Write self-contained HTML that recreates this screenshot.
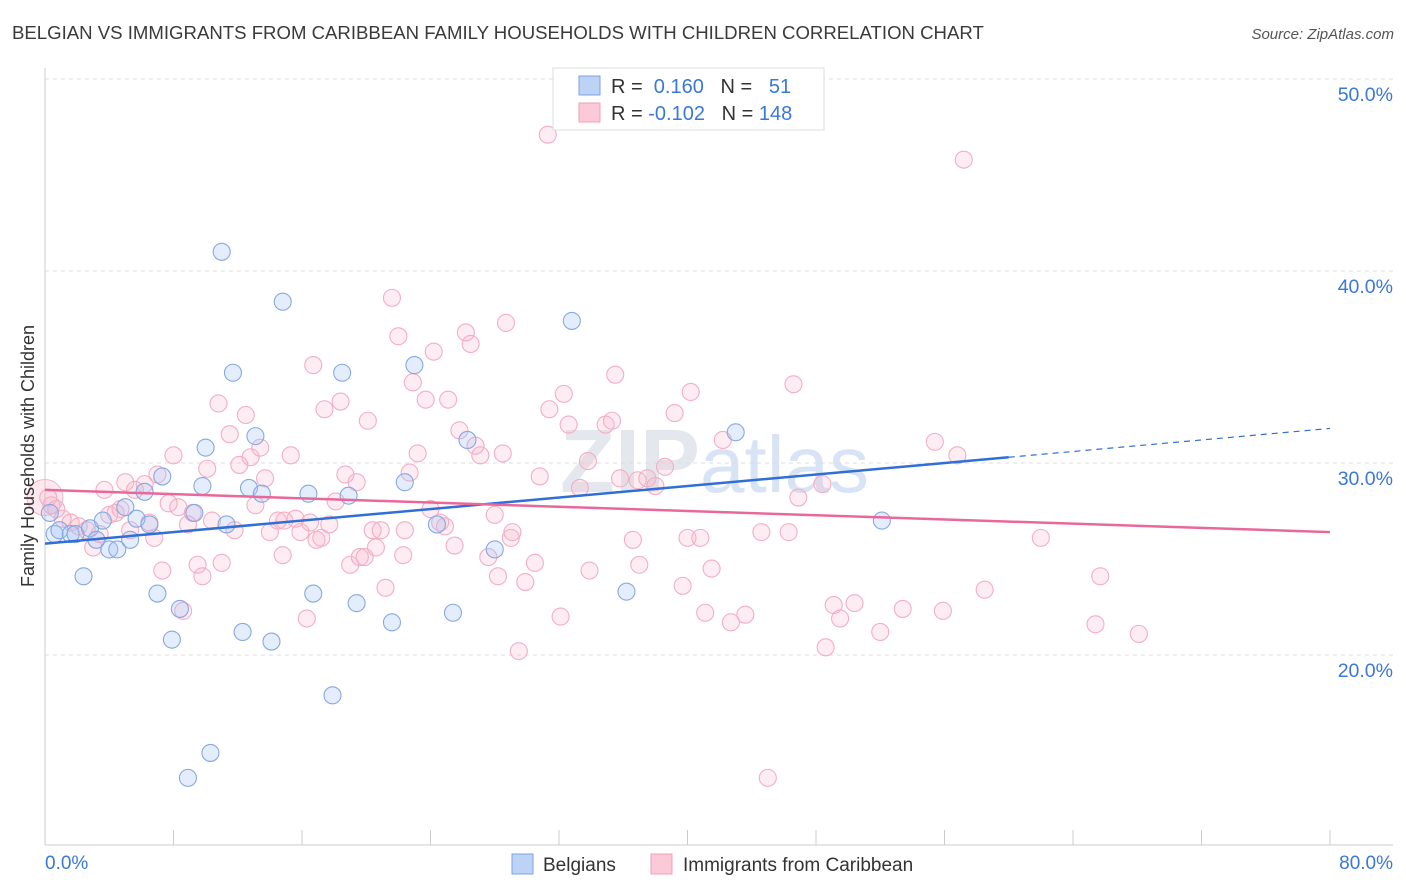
<!DOCTYPE html>
<html><head><meta charset="utf-8"><style>
body{margin:0;background:#fff;font-family:"Liberation Sans",sans-serif;}
svg{display:block}
</style></head><body>
<svg id="chart" width="1406" height="892">
<text x="12" y="39" font-size="18.6" fill="#3a3a3a">BELGIAN VS IMMIGRANTS FROM CARIBBEAN FAMILY HOUSEHOLDS WITH CHILDREN CORRELATION CHART</text>
<text x="1394" y="39" font-size="15" fill="#555" font-style="italic" text-anchor="end">Source: ZipAtlas.com</text>
<text x="560" y="492" font-size="90" fill="#e4e8ee" font-weight="bold">ZIP<tspan font-weight="normal" fill="#d8e4f6" font-size="80">atlas</tspan></text>
<g id="grid"></g>
<g id="axes"></g>
<g id="marks"></g>
<g id="lines"></g>
<text transform="translate(34,456) rotate(-90)" font-size="18" fill="#333" text-anchor="middle">Family Households with Children</text>
<g>
<rect x="553" y="68" width="271" height="62" fill="#fff" stroke="#ddd"/>
<rect x="579" y="76" width="21" height="19" fill="#bcd3f5" stroke="#7da3e0"/>
<rect x="579" y="103" width="21" height="19" fill="#fbc9d8" stroke="#f0a0b8"/>
<text x="611" y="93" font-size="20" fill="#333">R = <tspan fill="#3a78d8">&#160;0.160</tspan>&#160;&#160;&#160;N = <tspan fill="#3a78d8">&#160;&#160;51</tspan></text>
<text x="611" y="120" font-size="20" fill="#333">R = <tspan fill="#3a78d8">-0.102</tspan>&#160;&#160;&#160;N = <tspan fill="#3a78d8">148</tspan></text>
</g>
<g>
<rect x="512" y="854" width="21" height="20" fill="#bcd3f5" stroke="#7da3e0"/>
<text x="543" y="871" font-size="19" fill="#333">Belgians</text>
<rect x="651" y="854" width="21" height="20" fill="#fbc9d8" stroke="#f0a0b8"/>
<text x="683" y="871" font-size="19" fill="#333">Immigrants from Caribbean</text>
</g>
</svg>
<script>
const xTicks=[0,10,20,30,40,50,60,70,80];
const yTicks=[20,30,40,50];
const blueX=[0.3,0.6,0.9,1.6,1.9,2.4,2.8,3.2,3.6,4.0,4.5,5.0,5.3,5.7,6.2,6.5,7.0,7.3,7.9,8.4,8.9,9.3,9.8,10.0,10.3,11.0,11.3,11.7,12.3,12.7,13.1,13.5,14.1,14.8,16.4,16.7,17.9,18.5,18.9,19.4,21.6,22.4,23.0,24.4,25.4,26.3,28.0,32.8,36.2,43.0,52.1];
const blueY=[27.4,26.3,26.5,26.3,26.3,24.1,26.6,26.0,27.0,25.5,25.5,27.7,26.0,27.1,28.5,26.8,23.2,29.3,20.8,22.4,13.6,27.4,28.8,30.8,14.9,41.0,26.8,34.7,21.2,28.7,31.4,28.4,20.7,38.4,28.4,23.2,17.9,34.7,28.3,22.7,21.7,29.0,35.1,26.8,22.2,31.2,25.5,37.4,23.3,31.6,27.0];
const pinkX=[0.2,0.4,0.7,1.1,1.6,2.1,2.6,3.0,3.4,3.7,4.0,4.4,4.7,5.0,5.3,5.6,6.2,6.5,6.8,7.0,7.3,7.7,8.0,8.3,8.6,8.9,9.2,9.5,9.8,10.1,10.4,10.8,11.0,11.5,11.8,12.1,12.5,12.8,13.1,13.4,13.7,14.0,14.5,14.8,14.9,15.3,15.6,15.9,16.3,16.5,16.7,16.9,17.2,17.4,17.7,18.1,18.4,18.7,19.0,19.4,19.6,19.9,20.1,20.4,20.6,20.9,21.2,21.6,22.0,22.3,22.4,22.7,22.9,23.2,23.7,24.0,24.2,24.6,24.9,25.1,25.5,25.8,26.2,26.5,26.8,27.1,27.6,28.0,28.2,28.5,28.7,29.0,29.1,29.5,29.9,30.5,30.8,31.3,31.4,32.1,32.3,32.6,33.3,33.8,33.9,34.9,35.3,35.5,35.8,36.6,36.9,37.0,37.5,38.0,38.6,39.2,39.7,40.0,40.2,40.8,41.1,41.5,42.2,42.7,43.6,44.6,46.3,46.6,46.9,48.4,48.6,49.1,49.5,50.4,52.0,53.4,55.4,55.9,56.8,57.2,58.5,62.0,65.4,65.7,68.1,45.0];
const pinkY=[28.2,27.8,27.6,27.1,26.9,26.7,26.5,25.6,26.3,28.6,27.3,27.4,27.6,29.0,26.5,28.6,28.9,26.9,26.1,29.4,24.4,27.9,30.4,27.7,22.3,26.8,27.4,24.7,24.1,29.7,27.0,33.1,24.8,31.5,26.5,29.9,32.5,30.3,27.8,30.8,29.2,26.4,27.0,25.2,27.0,30.4,27.1,26.4,21.9,26.9,35.1,26.0,26.1,32.8,26.8,28.0,33.2,29.4,24.7,29.0,25.1,25.1,32.2,26.5,25.6,26.5,23.5,38.6,36.6,25.2,26.5,29.5,34.2,30.5,33.3,27.6,35.8,26.9,26.7,33.3,25.7,31.7,36.8,36.2,30.9,30.4,25.1,27.3,24.1,30.5,37.3,26.1,26.4,20.2,23.8,24.8,29.3,47.1,32.8,22.0,33.6,32.0,28.7,30.1,24.4,32.0,32.2,34.6,29.2,26.0,29.1,24.7,29.2,28.8,29.8,32.6,23.6,26.1,33.7,26.1,22.2,24.5,31.2,21.7,22.1,26.4,26.4,34.1,28.2,28.9,20.4,22.6,21.9,22.7,21.2,22.4,31.1,22.3,30.4,45.8,23.4,26.1,21.6,24.1,21.1,13.6];
const blueTrend=[25.8,0.075];
const pinkTrend=[28.6,-0.0275];
const X=v=>45+v*1285/80, Y=v=>463-(v-30)*19.2;
const NS='http://www.w3.org/2000/svg';
function mk(p,t,a){const e=document.createElementNS(NS,t);for(const k in a)e.setAttribute(k,a[k]);document.getElementById(p).appendChild(e);return e;}
yTicks.forEach(t=>{
 const g=mk('grid','line',{x1:45,x2:1393,y1:Y(t),y2:Y(t),stroke:'#ddd','stroke-dasharray':'4,4'});
 
 
 const l=mk('grid','text',{x:1393,y:Y(t)+22,'font-size':19.5,fill:'#3a78d8','text-anchor':'end'});
 l.textContent=t.toFixed(1)+'%';
 
 
});
mk('axes','line',{x1:45,x2:45,y1:68,y2:845,stroke:'#ccc'});
mk('axes','line',{x1:45,x2:1393,y1:845,y2:845,stroke:'#ccc'});
for(let i=0;i<=10;i++){const t=mk('axes','line',{x1:X(i*8),x2:X(i*8),y1:830,y2:845,stroke:'#ccc'});
 
 }
[[0,'start'],[80,'end']].forEach(([v,a])=>{const l=mk('axes','text',{x:a=='start'?X(v):1393,y:869,'font-size':19,fill:'#3a78d8','text-anchor':a});
 l.textContent=v.toFixed(1)+'%';
 
 });
const big=mk('marks','circle',{cx:X(0),cy:Y(28.2),r:18,fill:'rgba(248,180,200,0.3)',stroke:'#f4b4c8'});


pinkX.forEach((x,i)=>{const c=mk('marks','circle',{cx:X(x),cy:Y(pinkY[i]),r:8.5,fill:'rgba(248,180,200,0.25)',stroke:'#f3aec4','stroke-width':1.1});
 
 });
blueX.forEach((x,i)=>{const c=mk('marks','circle',{cx:X(x),cy:Y(blueY[i]),r:8.5,fill:'rgba(164,194,244,0.3)',stroke:'#86a9e2','stroke-width':1.1});
 
 });
const b1=mk('lines','line',{x1:X(0),y1:Y(blueTrend[0]),x2:X(60),y2:Y(blueTrend[0]+60*blueTrend[1]),stroke:'#2f6fd6','stroke-width':2.5});


const b2=mk('lines','line',{x1:X(60),y1:Y(blueTrend[0]+60*blueTrend[1]),x2:X(80),y2:Y(blueTrend[0]+80*blueTrend[1]),stroke:'#2f6fd6','stroke-width':1.2,'stroke-dasharray':'6,5'});


const p1=mk('lines','line',{x1:X(0),y1:Y(pinkTrend[0]),x2:X(80),y2:Y(pinkTrend[0]+80*pinkTrend[1]),stroke:'#e8689a','stroke-width':2.5});


</script>
</body></html>
